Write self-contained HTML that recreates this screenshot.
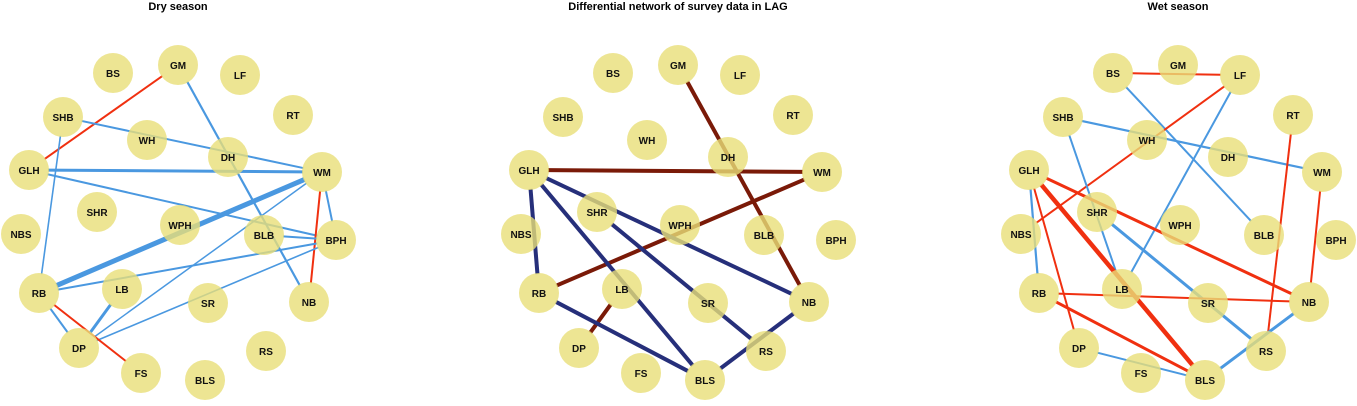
<!DOCTYPE html>
<html><head><meta charset="utf-8"><style>
body{margin:0;background:#fff;width:1357px;height:401px;overflow:hidden;font-family:"Liberation Sans",Arial,sans-serif}
</style></head><body>
<svg id="chart" width="1357" height="401" xmlns="http://www.w3.org/2000/svg"></svg>
<script>
const nodeNames=["BS","GM","LF","RT","SHB","WH","DH","WM","GLH","SHR","NBS","WPH","BLB","BPH","RB","LB","SR","NB","DP","FS","BLS","RS"];
const nodeX=[113,178,240,293,63,147,228,322,29,97,21,180,264,336,39,122,208,309,79,141,205,266];
const nodeY=[73,65,75,115,117,140,157,172,170,212,234,225,235,240,293,289,303,302,348,373,380,351];
const panelTitles=["Dry season","Differential network of survey data in LAG","Wet season"];
const panelOffsets=[0,500,1000];
// edges: [from,to,width,color]
const dryEdges=[["GM","GLH",2,"#f03010"],["GM","NB",2.2,"#4a98e0"],["SHB","WM",2,"#4a98e0"],["SHB","RB",1.6,"#4a98e0"],["GLH","WM",3,"#4a98e0"],["GLH","BPH",2,"#4a98e0"],["WM","RB",5,"#4a98e0"],["WM","DP",1.5,"#4a98e0"],["WM","BPH",2,"#4a98e0"],["WM","NB",2,"#f03010"],["BLB","BPH",2,"#4a98e0"],["BPH","RB",2,"#4a98e0"],["BPH","DP",1.6,"#4a98e0"],["RB","DP",2,"#4a98e0"],["RB","FS",2,"#f03010"],["LB","DP",3,"#4a98e0"]];
const diffEdges=[["GM","NB",4,"#7a1a08"],["GLH","WM",4,"#7a1a08"],["WM","RB",4,"#7a1a08"],["LB","DP",4,"#7a1a08"],["GLH","RB",4,"#262f7a"],["GLH","BLS",4,"#262f7a"],["GLH","NB",4,"#262f7a"],["SHR","RS",4,"#262f7a"],["RB","BLS",4,"#262f7a"],["BLS","NB",4,"#262f7a"]];
const wetEdges=[["BS","LF",2,"#f03010"],["BS","BLB",2,"#4a98e0"],["LF","NBS",2,"#f03010"],["LF","LB",2,"#4a98e0"],["SHB","WM",2.2,"#4a98e0"],["SHB","LB",2,"#4a98e0"],["GLH","RB",2.2,"#4a98e0"],["GLH","DP",2,"#f03010"],["GLH","BLS",4.5,"#f03010"],["GLH","NB",3,"#f03010"],["WM","NB",2,"#f03010"],["RT","RS",2,"#f03010"],["SHR","RS",3,"#4a98e0"],["RB","NB",2,"#f03010"],["RB","BLS",3,"#f03010"],["DP","BLS",2,"#4a98e0"],["NB","BLS",3,"#4a98e0"]];
const allEdges=[dryEdges,diffEdges,wetEdges];
const NS="http://www.w3.org/2000/svg";
const svg=document.getElementById('chart');
function mk(t,a){const e=document.createElementNS(NS,t);for(const k in a)e.setAttribute(k,a[k]);return e;}
const idx=n=>nodeNames.indexOf(n);
const R=20;
for(let p=0;p<3;p++){
  const ox=panelOffsets[p];
  const g=mk('g',{});
  
  
  svg.appendChild(g);
  const t=mk('text',{x:ox+178,y:10,'text-anchor':'middle','font-size':'11','font-weight':'bold',fill:'#000'});
  if(p===1)t.setAttribute('x',678);
  t.textContent=panelTitles[p];
  
  
  g.appendChild(t);
  for(const e of allEdges[p]){
    const a=idx(e[0]),b=idx(e[1]);
    const x1=nodeX[a]+ox,y1=nodeY[a],x2=nodeX[b]+ox,y2=nodeY[b];
    const d=Math.hypot(x2-x1,y2-y1),ux=(x2-x1)/d,uy=(y2-y1)/d;
    const l=mk('line',{x1:x1+ux*(R-1),y1:y1+uy*(R-1),x2:x2-ux*(R-1),y2:y2-uy*(R-1),stroke:e[3],'stroke-width':e[2]});
    
    
    g.appendChild(l);
  }
  for(let i=0;i<nodeNames.length;i++){
    const c=mk('circle',{cx:nodeX[i]+ox,cy:nodeY[i],r:R,fill:'#e8df78','fill-opacity':'0.8'});
    
    
    g.appendChild(c);
    const tx=mk('text',{x:nodeX[i]+ox,y:nodeY[i]+4,'text-anchor':'middle','font-size':'10','font-weight':'bold',fill:'#111'});
    tx.textContent=nodeNames[i];
    
    
    g.appendChild(tx);
  }
}
</script>
</body></html>
